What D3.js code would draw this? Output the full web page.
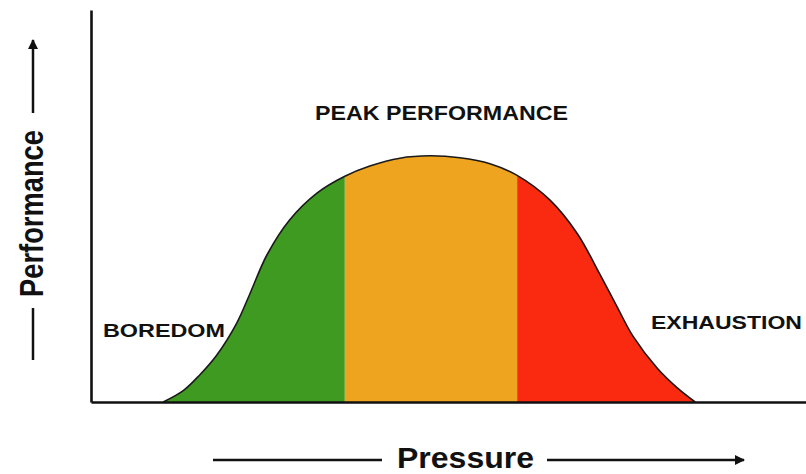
<!DOCTYPE html>
<meta charset="utf-8">
<script src="https://d3js.org/d3.v7.min.js"></script>
<style>
  body { margin: 0; background: #fff; }
  text { font-family: "Liberation Sans", Arial, sans-serif; font-weight: bold; fill: #111; }
</style>
<div id="my_dataviz"></div>
<script>

    // curve (pressure -> performance, both 0..100)
    var pressure    = [10.1, 12.9, 15.2, 17.6, 20.4, 22.2, 24.6, 27.8, 31.6, 35.5, 39.0, 43.2, 47.4, 51.6, 55.8, 59.6, 64.2, 68.0, 71.2, 73.6, 75.8, 79.2, 82.0, 84.5];
    var performance = [0,    2.9,  6.9,  12.0, 20.2, 27.5, 37.5, 46.5, 53.3, 57.6, 60.2, 62.2, 62.8, 62.3, 60.8, 57.8, 51.5, 43.0, 32.5, 24.2, 16.8, 8.6,  3.6,  0];

    // coloured zones
    var zoneNames  = ["BOREDOM", "PEAK PERFORMANCE", "EXHAUSTION"];
    var zoneStart  = [10.1, 35.5, 59.6];
    var zoneEnd    = [35.5, 59.6, 84.5];
    var zoneColors = ["#3e9a20", "#eea41f", "#fa2a10"];

    var points = pressure.map(function(p, i) { return {x: p, y: performance[i]}; });

    var W = 806, H = 474;
    var svg = d3.select("#my_dataviz")
        .append("svg")
        .attr("width", W)
        .attr("height", H);

    var x = d3.scaleLinear().domain([0, 100]).range([91, 806]);
    var y = d3.scaleLinear().domain([0, 100]).range([402, 10]);

    var defs = svg.append("defs");
    defs.append("marker")
        .attr("id", "arrow")
        .attr("viewBox", "0 0 10 10")
        .attr("refX", 9).attr("refY", 5)
        .attr("markerWidth", 4).attr("markerHeight", 4)
        .attr("orient", "auto")
      .append("path")
        .attr("d", "M0,0 L10,5 L0,10 z")
        .attr("fill", "#111");

    var smooth = d3.curveCatmullRom.alpha(0.5);

    var area = d3.area()
        .x(function(d) { return x(d.x); })
        .y0(y(0))
        .y1(function(d) { return y(d.y); })
        .curve(smooth);

    var line = d3.line()
        .x(function(d) { return x(d.x); })
        .y(function(d) { return y(d.y); })
        .curve(smooth);

    // one clip per zone, then the same area filled in each
    zoneStart.forEach(function(s, i) {
        defs.append("clipPath")
            .attr("id", "zone" + i)
          .append("rect")
            .attr("x", x(s))
            .attr("y", 0)
            .attr("width", x(zoneEnd[i]) - x(s))
            .attr("height", H);

        svg.append("path")
            .datum(points)
            .attr("clip-path", "url(#zone" + i + ")")
            .attr("fill", zoneColors[i])
            .attr("d", area);
    });

    svg.append("path")
        .datum(points)
        .attr("fill", "none")
        .attr("stroke", "#1a1a1a")
        .attr("stroke-width", 1.6)
        .attr("d", line);

    // axes: plain lines, no ticks
    svg.append("g")
        .attr("transform", "translate(0," + y(0) + ")")
        .call(d3.axisBottom(x).tickValues([]).tickSizeOuter(0))
        .select(".domain").attr("stroke", "#111").attr("stroke-width", 2.6);

    svg.append("g")
        .attr("transform", "translate(" + x(0) + ",0)")
        .call(d3.axisLeft(y).tickValues([]).tickSizeOuter(0))
        .select(".domain").attr("stroke", "#111").attr("stroke-width", 2.6);

    // zone labels
    var labelX = [103, 315, 651];
    var labelY = [337, 120, 329];
    var labelW = [122, 253, 151];
    zoneNames.forEach(function(n, i) {
        svg.append("text")
            .attr("x", labelX[i])
            .attr("y", labelY[i])
            .attr("font-size", i == 1 ? 20 : 19)
            .attr("textLength", labelW[i])
            .attr("lengthAdjust", "spacingAndGlyphs")
            .text(n);
    });

    // x title with arrow lines
    svg.append("text")
        .attr("x", 397).attr("y", 468)
        .attr("font-size", 30)
        .attr("textLength", 137)
        .attr("lengthAdjust", "spacingAndGlyphs")
        .text("Pressure");
    svg.append("line")
        .attr("x1", 213).attr("y1", 460).attr("x2", 382).attr("y2", 460)
        .attr("stroke", "#111").attr("stroke-width", 2.5);
    svg.append("line")
        .attr("x1", 547).attr("y1", 460).attr("x2", 744).attr("y2", 460)
        .attr("stroke", "#111").attr("stroke-width", 2.5)
        .attr("marker-end", "url(#arrow)");

    // y title with arrow lines
    svg.append("text")
        .attr("transform", "translate(43,297) rotate(-90)")
        .attr("font-size", 34)
        .attr("textLength", 167)
        .attr("lengthAdjust", "spacingAndGlyphs")
        .text("Performance");
    svg.append("line")
        .attr("x1", 33).attr("y1", 113).attr("x2", 33).attr("y2", 40)
        .attr("stroke", "#111").attr("stroke-width", 2.5)
        .attr("marker-end", "url(#arrow)");
    svg.append("line")
        .attr("x1", 33).attr("y1", 308).attr("x2", 33).attr("y2", 360)
        .attr("stroke", "#111").attr("stroke-width", 2.5);

</script>
